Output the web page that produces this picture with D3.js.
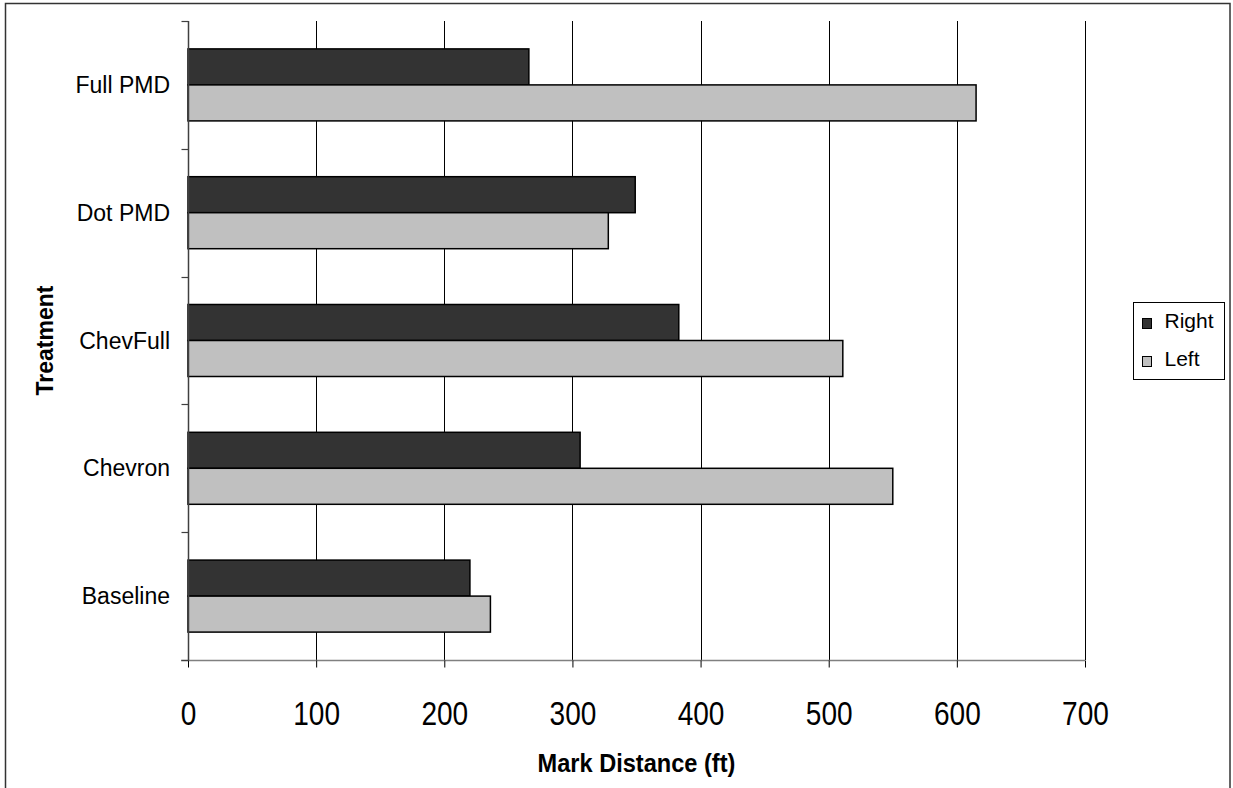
<!DOCTYPE html>
<html><head><meta charset="utf-8">
<script src="https://cdn.jsdelivr.net/npm/d3@7"></script>
<style>body{margin:0;background:#fff}svg{display:block}</style>
</head><body>
<svg id="chart" width="1233" height="788"></svg>
<script>
const categories = ["Full PMD","Dot PMD","ChevFull","Chevron","Baseline"];
const seriesNames = ["Right","Left"];
const rightValues = [266,349,383,306,220];
const leftValues = [615,328,511,550,236];
const xTicks = [0,100,200,300,400,500,600,700];
const seriesColors = ["#333333","#C0C0C0"];
const xTitle = "Mark Distance (ft)";
const yTitle = "Treatment";

const FONT = "'Liberation Sans', Arial, Helvetica, sans-serif";
const svg = d3.select("#chart");
const plot = {left:188, right:1085, top:21, bottom:660};

// outer chart border
svg.append("rect").attr("x",5.5).attr("y",3.5).attr("width",1224.5).attr("height",820)
  .attr("fill","#fff").attr("stroke","#333").attr("stroke-width",1.5);

const x = d3.scaleLinear().domain([0,700]).range([plot.left, plot.right]);
const y = d3.scaleBand().domain(categories).range([plot.top, plot.bottom])
  .paddingInner(0.4366).paddingOuter(0.2183);
const ySub = d3.scaleBand().domain(seriesNames).range([0, y.bandwidth()]);
const color = d3.scaleOrdinal().domain(seriesNames).range(seriesColors);

// gridlines
svg.append("g").selectAll("line").data(xTicks.filter(d=>d>0)).join("line")
  .attr("x1",d=>Math.round(x(d))+0.5).attr("x2",d=>Math.round(x(d))+0.5)
  .attr("y1",plot.top).attr("y2",plot.bottom)
  .attr("stroke","#000").attr("stroke-width",1);

// bars
const rows = categories.map((c,i)=>({cat:c, values:[{s:"Right",v:rightValues[i]},{s:"Left",v:leftValues[i]}]}));
const groups = svg.append("g").selectAll("g").data(rows).join("g")
  .attr("transform",d=>`translate(0,${y(d.cat)})`);
groups.selectAll("rect").data(d=>d.values).join("rect")
  .attr("x",x(0)).attr("y",d=>ySub(d.s))
  .attr("width",d=>x(d.v)-x(0)).attr("height",ySub.bandwidth())
  .attr("fill",d=>color(d.s)).attr("stroke","#000").attr("stroke-width",1.5);

// x axis
const xAxis = d3.axisBottom(x).tickValues(xTicks).tickSize(7).tickPadding(58).tickSizeOuter(0);
const gx = svg.append("g").attr("transform",`translate(0,${plot.bottom+0.5})`).call(xAxis);
gx.select(".domain").attr("stroke","#808080").attr("stroke-width",1.5).attr("d",`M${plot.left-7},0H${plot.right}`);
gx.selectAll(".tick line").attr("stroke","#000");
gx.selectAll(".tick text").attr("font-family",FONT).attr("font-size",33).attr("fill","#000")
  .attr("transform","scale(0.85,1)").attr("dy","0em");

// y axis
const gy = svg.append("g").attr("transform",`translate(${plot.left+0.5},0)`);
gy.append("line").attr("x1",0).attr("x2",0).attr("y1",plot.top).attr("y2",plot.bottom)
  .attr("stroke","#404040").attr("stroke-width",1.5);
const bounds = d3.range(categories.length+1).map(i=>plot.top + i*y.step());
gy.selectAll("line.tk").data(bounds).join("line").attr("class","tk")
  .attr("x1",-7).attr("x2",0).attr("y1",d=>Math.round(d)+0.5).attr("y2",d=>Math.round(d)+0.5)
  .attr("stroke","#404040").attr("stroke-width",1.2);
svg.append("g").selectAll("text").data(categories).join("text")
  .attr("x",170).attr("y",d=>y(d)+y.bandwidth()/2)
  .attr("dy","0.35em").attr("text-anchor","end")
  .attr("font-family",FONT).attr("font-size",23).attr("fill","#000")
  .text(d=>d);

// axis titles
svg.append("text").attr("transform",`translate(${(plot.left+plot.right)/2},772) scale(0.89,1)`)
  .attr("text-anchor","middle").attr("font-family",FONT).attr("font-weight","bold")
  .attr("font-size",26.5).attr("fill","#000").text(xTitle);
svg.append("text").attr("transform",`translate(52.5,${(plot.top+plot.bottom)/2}) rotate(-90)`)
  .attr("text-anchor","middle").attr("font-family",FONT).attr("font-weight","bold")
  .attr("font-size",23).attr("fill","#000").text(yTitle);

// legend
const lg = svg.append("g").attr("transform","translate(1133.5,302.5)");
lg.append("rect").attr("width",91).attr("height",77).attr("fill","#fff").attr("stroke","#000").attr("stroke-width",1);
const li = lg.selectAll("g").data(seriesNames).join("g")
  .attr("transform",(d,i)=>`translate(0,${16 + i*38})`);
li.append("rect").attr("x",9).attr("y",0).attr("width",9).attr("height",10)
  .attr("fill",d=>color(d)).attr("stroke","#000").attr("stroke-width",1);
li.append("text").attr("x",31).attr("y",9.5).attr("font-family",FONT).attr("font-size",21)
  .attr("fill","#000").text(d=>d);
</script>
</body></html>
